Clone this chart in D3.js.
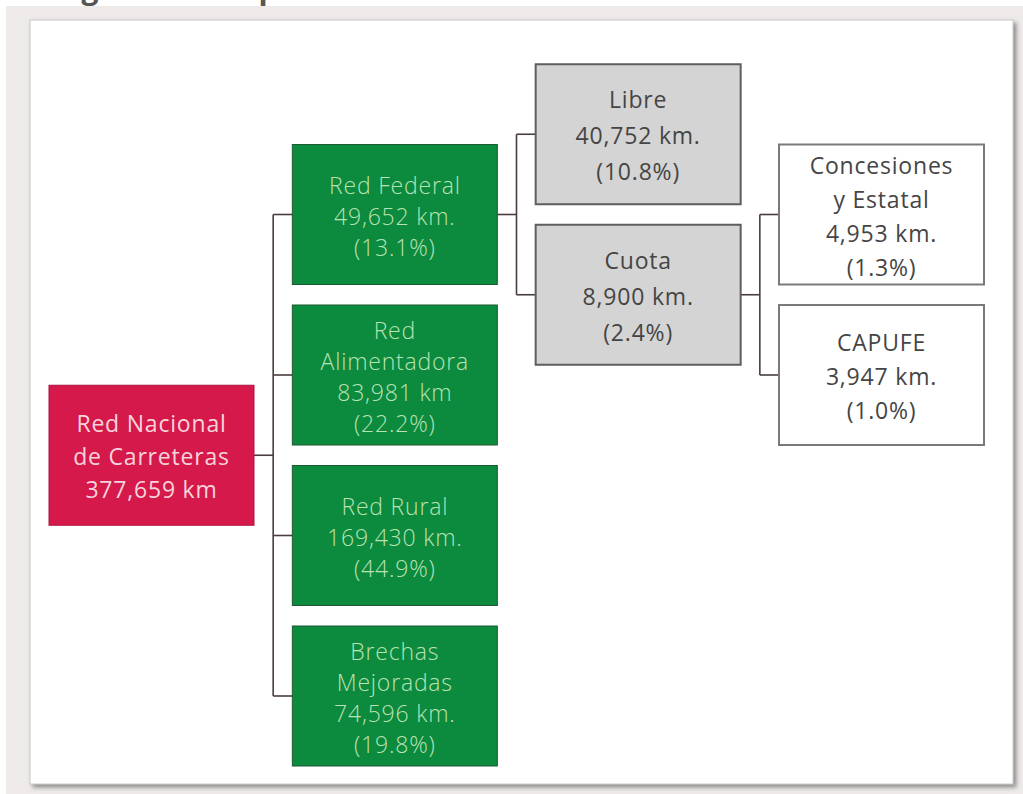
<!DOCTYPE html>
<html><head><meta charset="utf-8">
<script src="https://cdn.jsdelivr.net/npm/d3@7"></script>
<style>body{margin:0;background:#fff;} svg{display:block}</style>
</head><body><svg id="c" width="1023" height="794"></svg>
<script>
// ---- data ----
const nodeNames = ["Red Nacional de Carreteras","Red Federal","Red Alimentadora","Red Rural","Brechas Mejoradas","Libre","Cuota","Concesiones y Estatal","CAPUFE"];
const parentNames = ["", "Red Nacional de Carreteras","Red Nacional de Carreteras","Red Nacional de Carreteras","Red Nacional de Carreteras","Red Federal","Red Federal","Cuota","Cuota"];
const nameLines = [["Red Nacional","de Carreteras"],["Red Federal"],["Red","Alimentadora"],["Red Rural"],["Brechas","Mejoradas"],["Libre"],["Cuota"],["Concesiones","y Estatal"],["CAPUFE"]];
const kmLabels = ["377,659 km","49,652 km.","83,981 km","169,430 km.","74,596 km.","40,752 km.","8,900 km.","4,953 km.","3,947 km."];
const percents = [null,13.1,22.2,44.9,19.8,10.8,2.4,1.3,1.0];
const titleText = "Figura 2. Composición de la Red Nacional de Carreteras";

// ---- styles per level ----
const levelFill = ["#d5194b","#0c8a3d","#d4d4d4","#ffffff"];
const levelStroke = ["#b01040","#1d5a33","#5e5e5e","#7a7a7a"];
const levelText = ["#f7d3dc","#b9e2b4","#454545","#454545"];
const levelLineH = [33,31,36,34];
const levelWeight = [400,300,400,400];

const svg = d3.select("#c");
const defs = svg.append("defs");
const f = defs.append("filter").attr("id","sh").attr("x","-5%").attr("y","-5%").attr("width","110%").attr("height","110%");
f.append("feDropShadow").attr("dx",3).attr("dy",3).attr("stdDeviation",2).attr("flood-color","#777").attr("flood-opacity",0.8);

// background
svg.append("rect").attr("x",0).attr("y",0).attr("width",1023).attr("height",794).attr("fill","#ffffff");
svg.append("rect").attr("x",6).attr("y",6).attr("width",1017).attr("height",788).attr("fill","#eeeae9");
svg.append("text").attr("x",56).attr("y",-1).attr("font-family","Open Sans, sans-serif").attr("font-weight",700)
  .attr("font-size",30).attr("fill","#555").text(titleText);
svg.append("rect").attr("x",30).attr("y",20).attr("width",983).attr("height",764)
  .attr("fill","#fff").attr("stroke","#c8c8c8").attr("stroke-width",1).attr("filter","url(#sh)");

// ---- tree layout ----
const table = nodeNames.map((n,i)=>({id:n,parent:parentNames[i]||null,lines:nameLines[i],km:kmLabels[i],pct:percents[i]}));
const root = d3.stratify().id(d=>d.id).parentId(d=>d.parent)(table);
d3.tree().nodeSize([1,1]).separation(()=>1)(root);

const yScale = d3.scaleLinear().domain([-1.5,1.5]).range([214.5,696]);
const xScale = d3.scaleLinear().domain([0,3]).range([49,779]);
const boxW = 205, boxH = 140;

const nodes = root.descendants();

// connectors
const linkG = svg.append("g").attr("stroke","#4a3d3d").attr("stroke-width",1.6).attr("fill","none");
nodes.filter(n=>n.children).forEach(p=>{
  const px = xScale(p.y)+boxW, py = yScale(p.x);
  const cx = xScale(p.y+1);
  const mx = (px+cx)/2;
  const ys = p.children.map(c=>yScale(c.x));
  linkG.append("path").attr("d",`M${px},${py}H${mx}`);
  linkG.append("path").attr("d",`M${mx},${d3.min(ys)}V${d3.max(ys)}`);
  p.children.forEach(c=>linkG.append("path").attr("d",`M${mx},${yScale(c.x)}H${cx}`));
});

// boxes
const g = svg.append("g").selectAll("g").data(nodes).join("g")
  .attr("transform",d=>`translate(${xScale(d.y)},${yScale(d.x)-boxH/2})`);
g.append("rect").attr("width",boxW).attr("height",boxH)
  .attr("fill",d=>levelFill[d.depth]).attr("stroke",d=>levelStroke[d.depth])
  .attr("stroke-width",d=>d.depth>=2?2:1);
g.each(function(d){
  const lines = d.data.lines.concat([d.data.km]).concat(d.data.pct==null?[]:["("+d.data.pct.toFixed(1)+"%)"]);
  const lh = levelLineH[d.depth];
  const t = d3.select(this).append("text")
    .attr("text-anchor","middle").attr("font-family","Open Sans, sans-serif")
    .attr("font-size",23).attr("letter-spacing",0.8).attr("font-weight",levelWeight[d.depth])
    .attr("fill",levelText[d.depth]);
  lines.forEach((l,i)=>{
    t.append("tspan").attr("x",boxW/2).attr("y",boxH/2+(i-(lines.length-1)/2)*lh+1)
      .attr("dominant-baseline","central").text(l);
  });
});
</script></body></html>
